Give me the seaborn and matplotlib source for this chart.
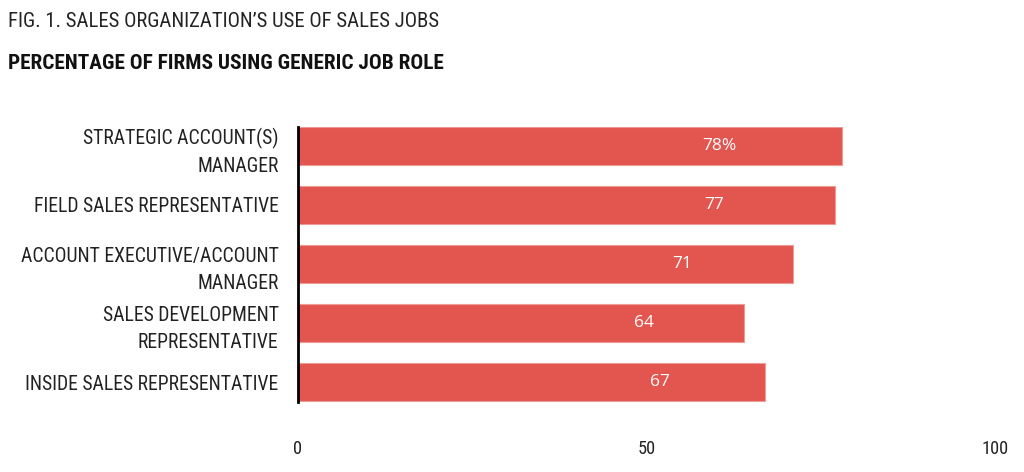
import matplotlib
matplotlib.use('Agg')
import matplotlib.pyplot as plt
import seaborn as sns
import pandas as pd

# Данные
roles = ['STRATEGIC ACCOUNT(S)\nMANAGER',
         'FIELD SALES REPRESENTATIVE',
         'ACCOUNT EXECUTIVE/ACCOUNT\nMANAGER',
         'SALES DEVELOPMENT\nREPRESENTATIVE',
         'INSIDE SALES REPRESENTATIVE']
percent = [78, 77, 71, 64, 67]
value_labels = ['78%', '77', '71', '64', '67']
x_ticks = [0, 50, 100]

df = pd.DataFrame({'Role': roles, 'Percent': percent})

sns.set_style('white')
narrow = ['Roboto Condensed', 'Archivo Narrow', 'IBM Plex Sans Condensed', 'DejaVu Sans']
plt.rcParams['font.family'] = narrow

fig = plt.figure(figsize=(10.24, 4.72), dpi=100)
ax = fig.add_axes([0.291, 0.148, 0.681, 0.583])

sns.barplot(data=df, x='Percent', y='Role', color='#E2564F', width=0.644,
            edgecolor='#F09A95', linewidth=0.8, saturation=1, ax=ax)

# подписи значений внутри столбцов
for i, (v, lab) in enumerate(zip(percent, value_labels)):
    ax.text(v * 0.775, i, lab, color='white', ha='center', va='center',
            fontsize=12.5, family=['Open Sans', 'DejaVu Sans'])

ax.set_xlim(0, 100)
ax.set_ylim(4.34, -0.322)
ax.set_xticks(x_ticks)
ax.set_xlabel('')
ax.set_ylabel('')
ax.tick_params(axis='x', length=0, pad=27, labelsize=13.2, colors='#222222')
ax.tick_params(axis='y', length=0, pad=14, labelsize=14.1, colors='#222222')
for lab in ax.get_yticklabels():
    lab.set_linespacing(1.55)

for s in ['top', 'right', 'bottom']:
    ax.spines[s].set_visible(False)
ax.spines['left'].set_color('black')
ax.spines['left'].set_linewidth(2)

fig.text(0.008, 0.9555, 'FIG. 1. SALES ORGANIZATION\u2019S USE OF SALES JOBS',
         fontsize=14.9, va='center', color='#222222')
fig.text(0.008, 0.8665, 'PERCENTAGE OF FIRMS USING GENERIC JOB ROLE',
         fontsize=15.3, fontweight='bold', va='center', color='#111111')

fig.savefig('out.png', dpi=100)
